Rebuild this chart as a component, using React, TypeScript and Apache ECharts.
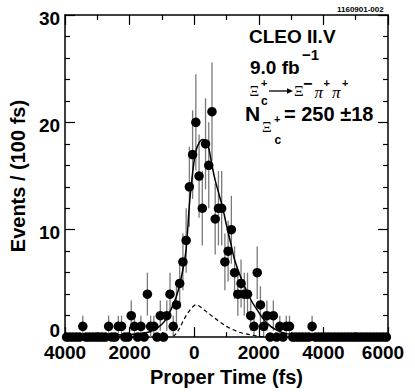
import React, { useEffect, useRef } from "react";
import * as echarts from "echarts";

// Histogram: proper time bins (100 fs wide) starting at -4000 fs
const BIN_START = -4000;
const BIN_WIDTH = 100;
const COUNTS = [
  0, 0, 0, 0, 0, 1, 0, 0, 0, 0,
  0, 0, 0, 1, 0, 0, 1, 1, 0, 0,
  2, 1, 0, 1, 0, 4, 1, 1, 0, 2,
  0, 2, 4, 1, 3, 5, 7, 9, 14, 17,
  20, 15, 12, 18, 16, 21, 11, 12, 12, 7,
  8, 10, 6, 4, 5, 4, 4, 2, 1, 6,
  3, 1, 2, 0, 2, 0, 1, 0, 1, 1,
  0, 0, 0, 0, 0, 0, 1, 0, 0, 0,
  0, 0, 0, 0, 0, 0, 0, 0, 0, 0,
  0, 0, 0, 0, 0, 0, 0, 0, 0, 0,
];

// Total fit (solid)
const FIT_X = [-4000, -2000, -1500, -1250, -1000, -850, -700, -550, -450, -350, -250, -150, -50, 50, 150, 250, 350, 450, 550, 650, 750, 900, 1000, 1150, 1250, 1450, 1750, 2000, 2250, 2550, 2900, 3500, 6000];
const FIT_Y = [0.2, 0.25, 0.4, 0.65, 1.2, 1.8, 2.7, 3.8, 4.9, 6.3, 8.2, 12.3, 15.3, 17.3, 18.1, 18.4, 18.3, 17.6, 16.0, 14.6, 13.5, 11.8, 10.4, 8.5, 7.2, 5.5, 3.5, 2.3, 1.3, 0.65, 0.3, 0.2, 0.15];

// Background component (dashed)
const DASH_X = [-650, -550, -450, -350, -250, -150, -50, 50, 150, 300, 450, 600, 800, 1000, 1200, 1400, 1600, 1800, 2000, 2200];
const DASH_Y = [0.05, 0.35, 0.85, 1.45, 2.0, 2.45, 2.8, 3.0, 2.9, 2.55, 2.2, 1.85, 1.4, 1.0, 0.7, 0.45, 0.3, 0.17, 0.08, 0.03];

const X_MIN = -4000;
const X_MAX = 6000;
const Y_MIN = 0;
const Y_MAX = 30;

const FONT = "'Liberation Sans', Arial, Helvetica, sans-serif";
const SERIF = "'Liberation Serif', 'DejaVu Serif', serif";

function txt(x: number, y: number, text: string, size: number, o: any = {}) {
  return {
    type: "text",
    x,
    y,
    scaleX: o.scaleX ?? 1,
    z: 100,
    style: {
      text,
      fontSize: size,
      fontWeight: o.weight ?? "bold",
      fontStyle: o.style ?? "normal",
      fontFamily: o.family ?? FONT,
      fill: "#000",
      align: o.align ?? "left",
      verticalAlign: "middle",
      textAlign: o.align ?? "left",
      textVerticalAlign: "middle",
    },
  };
}

export default function App() {
  const ref = useRef<HTMLDivElement>(null);
  useEffect(() => {
    const chart = echarts.init(ref.current!, null, { renderer: "svg" });
    const centers = COUNTS.map((_, i) => BIN_START + BIN_WIDTH * (i + 0.5));
    const points = COUNTS.map((c, i) => [centers[i], c]);
    const errs = COUNTS.map((c, i) => [centers[i], c - Math.sqrt(c), c + Math.sqrt(c)]).filter((d, i) => COUNTS[i] > 0);

    const lbl = { fontSize: 19, fontWeight: "bold", fontFamily: FONT, color: "#000" };
    const axisLine = { show: true, onZero: false, lineStyle: { color: "#000", width: 1.5 } };
    const xTick = { show: true, inside: true, length: 10, lineStyle: { color: "#000", width: 1.2 } };
    const xMinor = { show: true, splitNumber: 2, length: 5, lineStyle: { color: "#000", width: 1.2 } };
    const yMinor = { show: true, splitNumber: 5, length: 5, lineStyle: { color: "#000", width: 1.2 } };

    const option: any = {
      animation: false,
      grid: { left: 63, right: 27, top: 15, bottom: 52, containLabel: false },
      xAxis: [
        {
          type: "value", min: X_MIN, max: X_MAX, interval: 2000, position: "bottom",
          axisLine, axisTick: xTick, minorTick: xMinor,
          splitLine: { show: false },
          axisLabel: {
            ...lbl, margin: 6, showMinLabel: true, showMaxLabel: true,
            formatter: (v: number) => (v === 6000 ? "{r|6000}" : String(Math.abs(v))),
            rich: { r: { ...lbl, padding: [0, 10, 0, 0] } },
          },
          name: "Proper Time (fs)", nameLocation: "middle", nameGap: 21,
          nameTextStyle: { fontSize: 20, fontWeight: "bold", fontFamily: FONT, color: "#000" },
        },
        {
          type: "value", min: X_MIN, max: X_MAX, interval: 2000, position: "top",
          axisLine, axisTick: xTick, minorTick: xMinor,
          splitLine: { show: false }, axisLabel: { show: false },
        },
      ],
      yAxis: [
        {
          type: "value", min: Y_MIN, max: Y_MAX, interval: 10, position: "left",
          axisLine, axisTick: xTick, minorTick: yMinor,
          splitLine: { show: false },
          axisLabel: {
            ...lbl, margin: 5,
            formatter: (v: number) => (v === 0 ? "{z|0}" : "{n|" + v + "}"),
            rich: { n: { ...lbl, padding: [6, 0, 0, 0] }, z: { ...lbl, padding: [0, 0, 13, 0] } },
          },
          name: "Events / (100 fs)", nameLocation: "middle", nameGap: 28,
          nameTextStyle: { fontSize: 20, fontWeight: "bold", fontFamily: FONT, color: "#000" },
        },
        {
          type: "value", min: Y_MIN, max: Y_MAX, interval: 10, position: "right",
          axisLine, axisTick: xTick, minorTick: yMinor,
          splitLine: { show: false }, axisLabel: { show: false },
        },
      ],
      series: [
        {
          type: "custom",
          xAxisIndex: 0, yAxisIndex: 0,
          z: 1,
          encode: { x: 0, y: [1, 2] },
          data: errs,
          renderItem: (params: any, api: any) => {
            const x = api.value(0);
            const p1 = api.coord([x, api.value(1)]);
            const p2 = api.coord([x, api.value(2)]);
            return {
              type: "line",
              shape: { x1: p1[0], y1: p1[1], x2: p2[0], y2: p2[1] },
              style: { stroke: "#7a7a7a", lineWidth: 1.3 },
            };
          },
        },
        {
          type: "line", z: 2, showSymbol: false, smooth: 0.35,
          data: FIT_X.map((x, i) => [x, FIT_Y[i]]),
          lineStyle: { color: "#000", width: 1.5 },
        },
        {
          type: "line", z: 2, showSymbol: false, smooth: 0.35,
          data: DASH_X.map((x, i) => [x, DASH_Y[i]]),
          lineStyle: { color: "#000", width: 1.2, type: [4, 3] },
        },
        {
          type: "scatter", z: 3, symbol: "circle", symbolSize: 9.5,
          itemStyle: { color: "#000", opacity: 1 },
          data: points,
        },
      ],
      graphic: [
        txt(337, 9, "1160901-002", 8),
        txt(249, 36, "CLEO II.V", 19),
        txt(250, 67, "9.0 fb", 19),
        txt(302, 54, "−1", 15),
        txt(249.5, 90.5, "Ξ", 15, { weight: "normal", family: SERIF }),
        txt(261, 83, "+", 11),
        txt(261, 101, "c", 12),
        { type: "line", shape: { x1: 269, y1: 91, x2: 288, y2: 91 }, style: { stroke: "#000", lineWidth: 1.3 }, z: 100 },
        { type: "polygon", shape: { points: [[287, 88.3], [293, 91], [287, 93.7]] }, style: { fill: "#000" }, z: 100 },
        txt(294, 90.5, "Ξ", 15, { weight: "normal", family: SERIF }),
        txt(303, 83, "−", 16),
        txt(314.5, 92, "π", 17, { weight: "normal", style: "italic", family: SERIF }),
        txt(323.5, 83, "+", 11),
        txt(332, 92, "π", 17, { weight: "normal", style: "italic", family: SERIF }),
        txt(342, 83, "+", 11),
        txt(245, 113, "N", 21),
        txt(262, 127, "Ξ", 15, { weight: "normal", family: SERIF }),
        txt(274, 119, "+", 11),
        txt(274.5, 140, "c", 12),
        txt(284, 113.5, "= 250 ±18", 20),
      ],
    };
    chart.setOption(option);
    return () => chart.dispose();
  }, []);
  return <div ref={ref} style={{ position: "absolute", left: 0, top: 0, width: 415, height: 392 }} />;
}
